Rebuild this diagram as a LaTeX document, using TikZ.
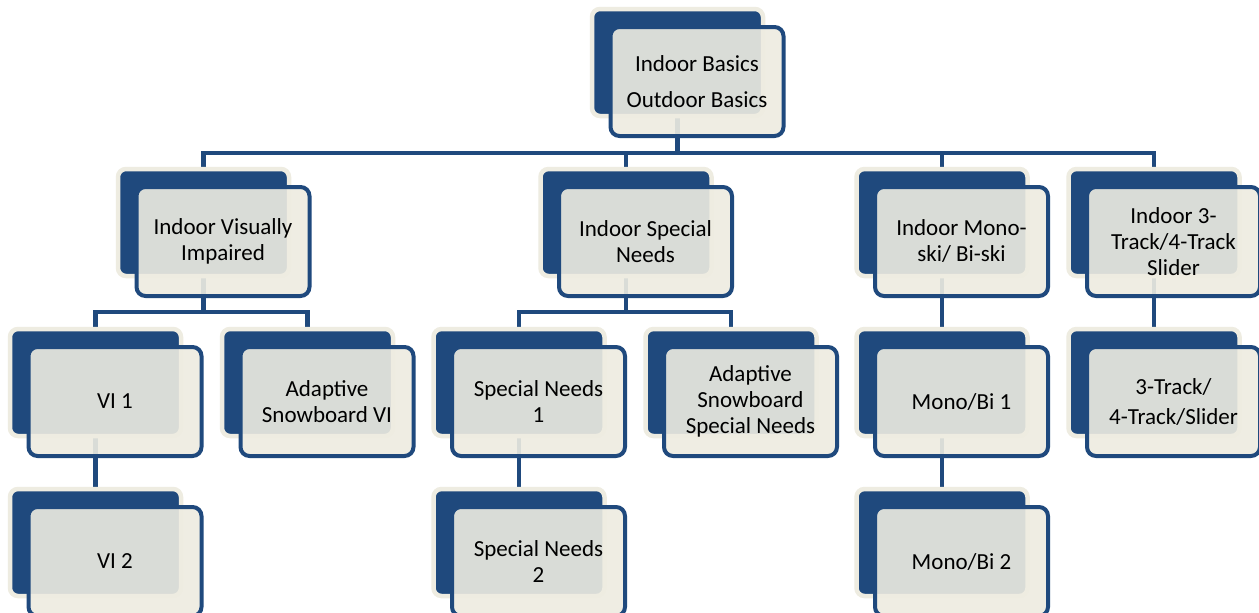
\documentclass[tikz,border=0pt]{standalone}
\usepackage{fontspec}
\setmainfont{Carlito}
\usetikzlibrary{calc,backgrounds}
\definecolor{navy}{HTML}{1F497D}
\definecolor{cream}{HTML}{EEECE1}
\newcommand\twobox[4]{%
  \node[backbox] (#1B) at (#2,#3) {};
  \node[frontbox] (#1) at ($(#1B)+(19.5,19)$) {#4};}
\begin{document}
\begin{tikzpicture}[x=1pt,y=-1pt,
  backbox/.style={draw=cream,fill=navy,line width=4.5pt,rounded corners=8pt,
    minimum width=171pt,minimum height=107pt,inner sep=0pt},
  frontbox/.style={draw=navy,fill=cream,fill opacity=0.9,text opacity=1,
    line width=4pt,rounded corners=9pt,minimum width=173pt,minimum height=109pt,
    inner sep=0pt,align=center,font=\fontsize{23}{26}\selectfont,text=black},
  conn/.style={draw=navy,line width=4.5pt}]
\useasboundingbox (0,0) rectangle (1259,613);
\clip (0,0) rectangle (1259,613);
% level 0
\twobox{top}{677.5}{62.5}{Indoor Basics\\[10pt]Outdoor Basics}
% level 1
\twobox{vi}{203.5}{222.5}{Indoor Visually\\Impaired}
\twobox{sn}{626}{222.5}{Indoor Special\\Needs}
\twobox{mono}{942}{222.5}{Indoor Mono-\\ski/ Bi-ski}
\twobox{slid}{1154}{222.5}{Indoor 3-\\Track/4-Track\\Slider}
% level 2
\twobox{vione}{95.5}{382.5}{VI 1}
\twobox{advi}{307.5}{382.5}{Adaptive\\Snowboard VI}
\twobox{snone}{519}{382.5}{Special Needs\\1}
\twobox{adsn}{731}{382.5}{Adaptive\\Snowboard\\Special Needs}
\twobox{monoone}{942}{382.5}{Mono/Bi 1}
\twobox{track}{1154}{382.5}{3-Track/\\[4pt]4-Track/Slider}
% level 3
\twobox{vitwo}{95.5}{542.5}{VI 2}
\twobox{sntwo}{519}{542.5}{Special Needs\\2}
\twobox{monotwo}{942}{542.5}{Mono/Bi 2}
% connectors
\begin{scope}[on background layer]
  \fill[white] (0,0) rectangle (1259,613);
  \coordinate (jtop) at (677.5,153);
  \coordinate (jvi) at (203.5,312);
  \coordinate (jsn) at (626,312);
  \draw[conn] (topB.center) -- (jtop) -| (viB.north);
  \draw[conn] (jtop) -| (snB.north);
  \draw[conn] (jtop) -| (monoB.north);
  \draw[conn] (jtop) -| (slidB.north);
  \draw[conn] (viB.center) -- (jvi) -| (vioneB.north);
  \draw[conn] (jvi) -| (adviB.north);
  \draw[conn] (snB.center) -- (jsn) -| (snoneB.north);
  \draw[conn] (jsn) -| (adsnB.north);
  \draw[conn] (monoB.center) -- (monooneB.north);
  \draw[conn] (slidB.center) -- (trackB.north);
  \draw[conn] (vioneB.center) -- (vitwoB.north);
  \draw[conn] (snoneB.center) -- (sntwoB.north);
  \draw[conn] (monooneB.center) -- (monotwoB.north);
\end{scope}
\end{tikzpicture}
\end{document}
